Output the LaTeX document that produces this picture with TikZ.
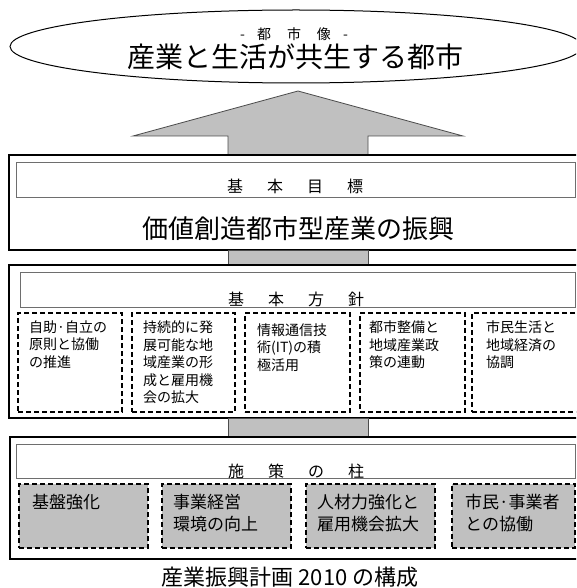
\documentclass[tikz,border=0pt]{standalone}
\usepackage{fontspec}
\setmainfont{Noto Sans CJK JP}
\usetikzlibrary{shapes.geometric}
\definecolor{fillgray}{HTML}{C0C0C0}
\definecolor{hdrgray}{HTML}{6E6E6E}
\tikzset{
  outerbox/.style={draw=black, line width=2pt, anchor=north west, inner sep=0pt, outer sep=0pt},
  hdrbox/.style={draw=hdrgray, line width=0.9pt, fill=white, anchor=north west, inner sep=0pt, outer sep=0pt},
  dbox/.style={draw=black, dash pattern=on 5pt off 3pt, line width=1.3pt, anchor=north west, inner sep=0pt, outer sep=0pt},
  gbox/.style={dbox, fill=fillgray},
  conn/.style={draw=black!70, fill=fillgray, line width=0.8pt},
  smalltxt/.style={font=\fontsize{14}{17.5}\selectfont, align=left, anchor=north west, inner sep=0pt},
  midtxt/.style={font=\fontsize{17}{22}\selectfont, align=left, anchor=north west, inner sep=0pt},
  hdrtxt/.style={font=\fontsize{16}{16}\selectfont, inner sep=0pt},
  bigtxt/.style={inner sep=0pt},
}
\begin{document}
\begin{tikzpicture}[x=1pt, y=-1pt]
\useasboundingbox (0,0) rectangle (576,588);
\clip (0,0) rectangle (576,588);

% vision ellipse
\node[ellipse, draw=black, line width=1pt, minimum width=572pt, minimum height=73pt, inner sep=0pt] (vision) at (296,46.5) {};
\node[font=\fontsize{14}{14}\selectfont, inner sep=0pt] (visiontitle) at (294,34) {-\hspace{12pt}都\hspace{16pt}市\hspace{16pt}像\hspace{12pt}-};
\node[bigtxt, font=\fontsize{28}{28}\selectfont] (visiontext) at (295,57) {産業と生活が共生する都市};

% big arrow
\coordinate (tip) at (298,91);
\draw[conn] (tip) -- (463,136) -- (368,136) -- (368,155) -- (228,155) -- (228,136) -- (133,136) -- cycle;

% box 1
\node[outerbox, minimum width=581pt, minimum height=95pt] (goal) at (9,155) {};
\node[hdrbox, minimum width=559pt, minimum height=35pt] (goalhdr) at (16,162) {};
\node[hdrtxt] (goalhdrtxt) at (295,186) {基\hspace{24pt}本\hspace{24pt}目\hspace{24pt}標};
\node[bigtxt, font=\fontsize{26}{26}\selectfont] (goaltext) at (298,229) {価値創造都市型産業の振興};

% connector 1
\draw[conn] (228,250) rectangle (368,265);

% box 2
\node[outerbox, minimum width=581pt, minimum height=153pt] (policy) at (9,265) {};
\node[hdrbox, minimum width=555pt, minimum height=35pt] (policyhdr) at (20,272) {};
\node[hdrtxt] (policyhdrtxt) at (296,299) {基\hspace{24pt}本\hspace{24pt}方\hspace{24pt}針};

\node[dbox, minimum width=104pt, minimum height=99pt] (pa) at (18,313) {};
\node[dbox, minimum width=103pt, minimum height=99pt] (pb) at (132,313) {};
\node[dbox, minimum width=105pt, minimum height=99pt] (pc) at (245,313) {};
\node[dbox, minimum width=105pt, minimum height=99pt] (pd) at (360,313) {};
\node[dbox, minimum width=118pt, minimum height=99pt] (pe) at (472,313) {};

\node[smalltxt] (ta) at (29,320.5) {自助·自立の\\原則と協働\\の推進};
\node[smalltxt] (tb) at (143,320.5) {持続的に発\\展可能な地\\域産業の形\\成と雇用機\\会の拡大};
\node[smalltxt] (tc) at (257,323.5) {情報通信技\\術(IT)の積\\極活用};
\node[smalltxt] (td) at (369,320.5) {都市整備と\\地域産業政\\策の連動};
\node[smalltxt] (te) at (486,320.5) {市民生活と\\地域経済の\\協調};

% connector 2
\draw[conn] (228,418) rectangle (368,437);

% box 3
\node[outerbox, minimum width=580pt, minimum height=122pt] (pillar) at (10,437) {};
\node[hdrbox, minimum width=559pt, minimum height=34pt] (pillarhdr) at (16,444) {};
\node[hdrtxt] (pillarhdrtxt) at (296,471) {施\hspace{24pt}策\hspace{24pt}の\hspace{24pt}柱};

\node[gbox, minimum width=129pt, minimum height=64pt] (ga) at (19,484) {};
\node[gbox, minimum width=129pt, minimum height=64pt] (gb) at (162,484) {};
\node[gbox, minimum width=129pt, minimum height=64pt] (gc) at (306,484) {};
\node[gbox, minimum width=123pt, minimum height=64pt] (gd) at (452,484) {};

\node[midtxt] (gta) at (32,493.5) {基盤強化};
\node[midtxt] (gtb) at (173,493.5) {事業経営\\環境の向上};
\node[midtxt] (gtc) at (317,493.5) {人材力強化と\\雇用機会拡大};
\node[midtxt] (gtd) at (465,493.5) {市民·事業者\\との協働};

% caption
\node[bigtxt, font=\fontsize{22}{22}\selectfont] (caption) at (290,577) {産業振興計画 2010 の構成};
\end{tikzpicture}
\end{document}
